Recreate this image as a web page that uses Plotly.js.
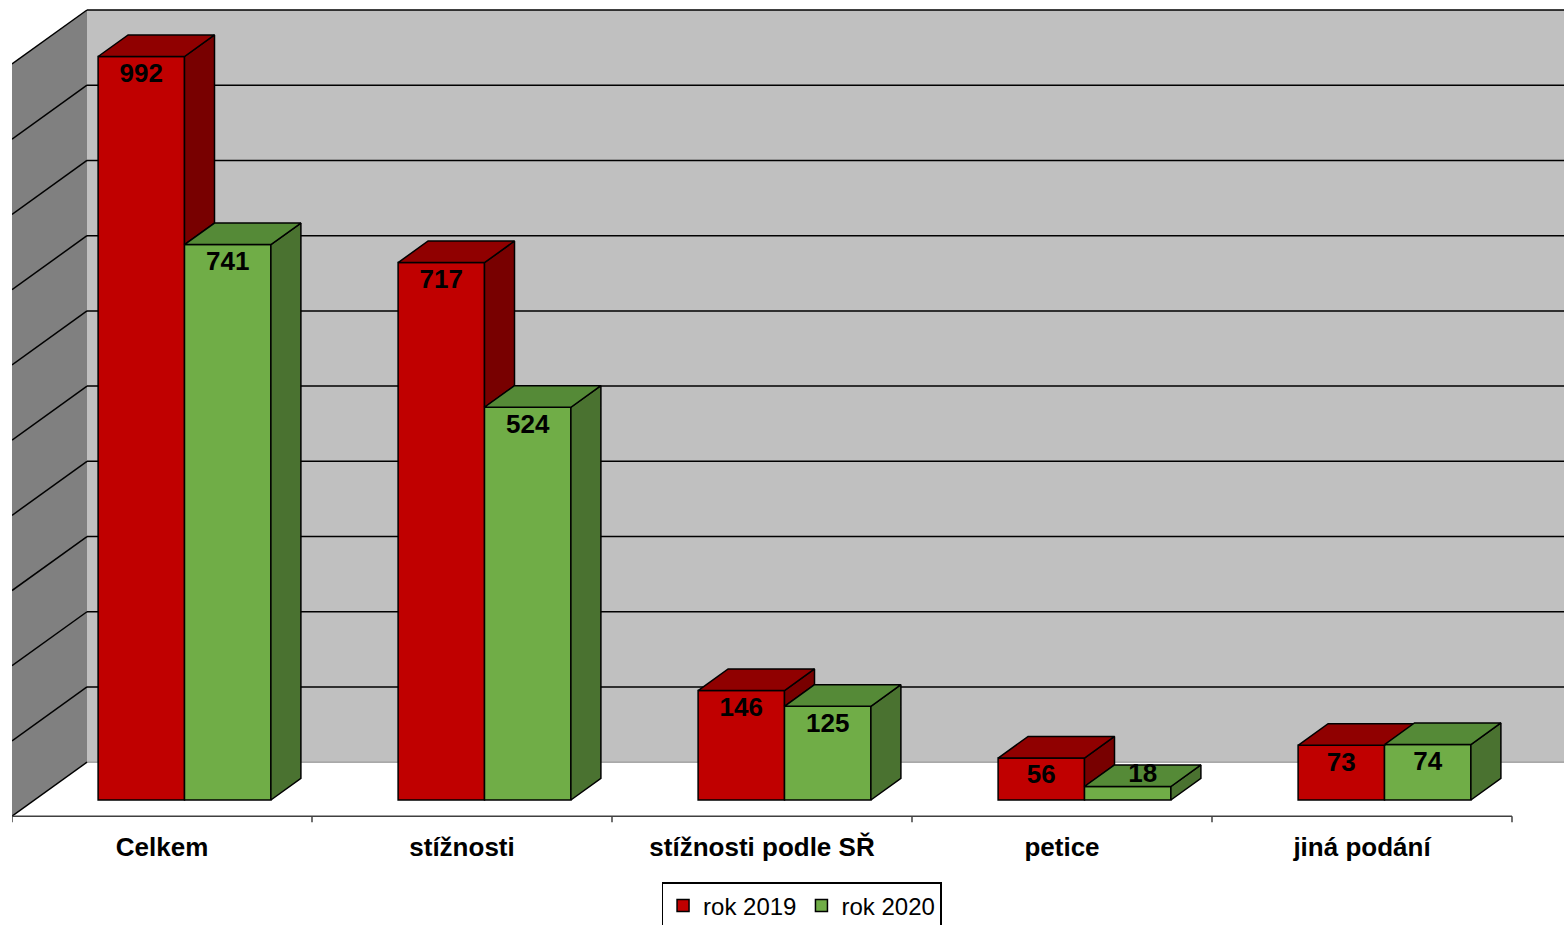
<!DOCTYPE html>
<html><head><meta charset="utf-8">
<script src="https://cdn.plot.ly/plotly-3.0.1.min.js"></script>
<style>html,body{margin:0;padding:0;background:#fff;} #chart{width:1564px;height:925px;}</style>
</head><body><div id="chart"></div>
<script>
// ---- data ----
const categories = ['Celkem', 'stížnosti', 'stížnosti podle SŘ', 'petice', 'jiná podání'];
const seriesNames = ['rok 2019', 'rok 2020'];
const values2019 = [992, 717, 146, 56, 73];
const values2020 = [741, 524, 125, 18, 74];
const gridValues = [0, 100, 200, 300, 400, 500, 600, 700, 800, 900, 1000];

// ---- geometry of the pseudo-3D frame ----
const PX = 0.7495;                 // pixels per value unit (front plane)
const depthX = 0.25, depthY = 54 / PX;
const frontFrac = 0.3, barDepthFrac = 0.4;
const floorY = -frontFrac * depthY;
const wallBase = floorY + depthY;
const wallTop = 790 / PX;
const wallScale = (wallTop - wallBase) / 1000;
const barShift = frontFrac * depthX;
const barW = 0.288;
const ddx = barDepthFrac * depthX, ddy = barDepthFrac * depthY;
const xMin = -0.5, xMax = -0.5 + 1552 / 300;
const yMax = 800 / PX, yMin = -30 / PX;

const colors = {
  redFront: '#C00000', redTop: '#900000', redSide: '#780000',
  greenFront: '#70AD47', greenTop: '#558A37', greenSide: '#4A7230'
};

const idx = categories.map((c, i) => i);

// ---- frame shapes (walls, floor, gridlines) ----
const shapes = [];
shapes.push({type: 'path', xref: 'x', yref: 'y', layer: 'below',
  path: `M${-0.5 + depthX},${wallBase} L${xMax + 1},${wallBase} L${xMax + 1},${wallTop} L${-0.5 + depthX},${wallTop} Z`,
  fillcolor: '#C0C0C0', line: {width: 0}});
shapes.push({type: 'path', xref: 'x', yref: 'y', layer: 'below',
  path: `M${-0.5},${floorY} L${-0.5 + depthX},${wallBase} L${-0.5 + depthX},${wallTop} L${-0.5},${wallTop - depthY} Z`,
  fillcolor: '#808080', line: {width: 0}});
shapes.push({type: 'line', xref: 'x', yref: 'y', layer: 'below',
  x0: -0.5 + depthX, x1: xMax + 1, y0: wallBase, y1: wallBase, line: {color: '#8a8a8a', width: 1}});
gridValues.forEach(g => {
  const yb = wallBase + g * wallScale;
  if (g > 0) {
    shapes.push({type: 'line', xref: 'x', yref: 'y', layer: 'below',
      x0: -0.5 + depthX, x1: xMax + 1, y0: yb, y1: yb, line: {color: '#000', width: 1.5}});
  }
  shapes.push({type: 'line', xref: 'x', yref: 'y', layer: 'below',
    x0: -0.5 + depthX, x1: -0.5, y0: yb, y1: yb - depthY, line: {color: '#000', width: 1.5}});
});
shapes.push({type: 'line', xref: 'x', yref: 'y', layer: 'below',
  x0: -0.5, x1: categories.length - 0.5, y0: floorY, y1: floorY, line: {color: '#404040', width: 1.5}});
for (let i = 0; i <= categories.length; i++) {
  shapes.push({type: 'line', xref: 'x', yref: 'y', layer: 'below', ysizemode: 'pixel', yanchor: floorY,
    x0: i - 0.5, x1: i - 0.5, y0: 0, y1: -6, line: {color: '#404040', width: 1.5}});
}

// ---- bar faces (top and side of each bar, from the values) ----
function faces(vals, offset, otherVals, clipAgainstRight) {
  const top = {x: [], y: []}, side = {x: [], y: []};
  vals.forEach((v, i) => {
    const xl = i + offset, xr = xl + barW;
    top.x.push(xl, xr, xr + ddx, xl + ddx, xl, null);
    top.y.push(v, v, v + ddy, v + ddy, v, null);
    const lo = clipAgainstRight ? otherVals[i] : 0;
    if (v > lo) {
      side.x.push(xr, xr, xr + ddx, xr + ddx, xr, null);
      side.y.push(lo, v, v + ddy, lo + ddy, lo, null);
    }
  });
  return {top, side};
}
const redF = faces(values2019, barShift - barW, values2020, true);
const greenF = faces(values2020, barShift, null, false);

function faceTrace(f, color) {
  return {type: 'scatter', mode: 'lines', x: f.x, y: f.y, fill: 'toself', fillcolor: color,
    line: {color: '#000', width: 1.5}, showlegend: false, hoverinfo: 'skip'};
}

// ---- labels ----
const labX = [], labY = [], labT = [];
[[values2019, barShift - barW], [values2020, barShift]].forEach(([vals, off]) => {
  vals.forEach((v, i) => {
    const xc = i + off + barW / 2;
    if (v * PX < 30) { labX.push(xc + ddx / 2); labY.push(v + ddy / 2); }
    else { labX.push(xc); labY.push(v - 25); }
    labT.push(String(v));
  });
});

const data = [
  {type: 'bar', x: idx, y: values2019, width: barW, offset: barShift - barW, name: seriesNames[0],
    marker: {color: colors.redFront, line: {color: '#000', width: 1.5}}, hoverinfo: 'skip'},
  {type: 'bar', x: idx, y: values2020, width: barW, offset: barShift, name: seriesNames[1],
    marker: {color: colors.greenFront, line: {color: '#000', width: 1.5}}, hoverinfo: 'skip'},
  faceTrace(redF.side, colors.redSide),
  faceTrace(redF.top, colors.redTop),
  faceTrace(greenF.side, colors.greenSide),
  faceTrace(greenF.top, colors.greenTop),
  {type: 'scatter', mode: 'text', x: labX, y: labY, text: labT, showlegend: false, hoverinfo: 'skip',
    cliponaxis: false,
    textfont: {family: 'Arial, Liberation Sans, sans-serif', size: 26, color: '#000', weight: 'bold'}}
];

const layout = {
  width: 1564, height: 925,
  margin: {l: 12, r: 0, t: 0, b: 95},
  paper_bgcolor: '#fff', plot_bgcolor: '#fff',
  barmode: 'overlay',
  showlegend: true,
  xaxis: {range: [xMin, xMax], tickvals: idx, ticktext: categories, showgrid: false, zeroline: false,
    showline: false, ticks: '', ticklabelstandoff: -1, fixedrange: true,
    tickfont: {family: 'Arial, Liberation Sans, sans-serif', size: 26, color: '#000', weight: 'bold'}},
  yaxis: {range: [yMin, yMax], showgrid: false, zeroline: false, showticklabels: false, showline: false,
    ticks: '', fixedrange: true},
  legend: {orientation: 'h', xref: 'container', yref: 'container', x: 0.5125, y: 1 - 882 / 925,
    xanchor: 'center', yanchor: 'top', bgcolor: '#fff', bordercolor: '#000', borderwidth: 1.5,
    font: {family: 'Arial, Liberation Sans, sans-serif', size: 24, color: '#000'}},
  shapes: shapes
};

Plotly.newPlot('chart', data, layout, {displayModeBar: false, staticPlot: true});
</script>
</body></html>
